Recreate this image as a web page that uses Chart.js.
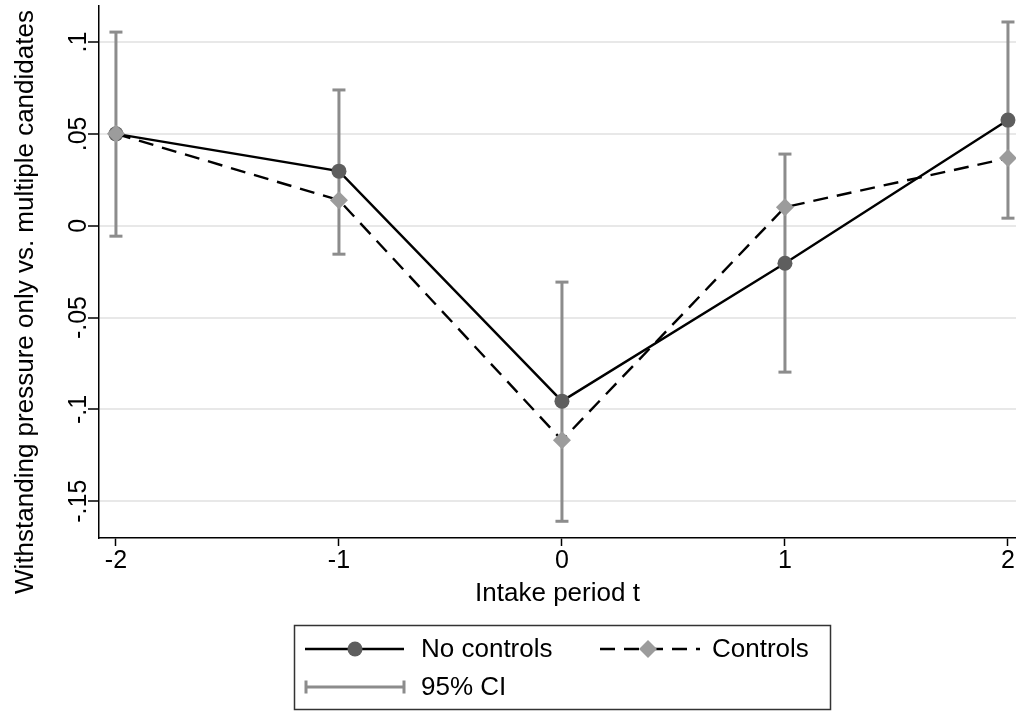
<!DOCTYPE html>
<html>
<head>
<meta charset="utf-8">
<script src="https://cdn.jsdelivr.net/npm/chart.js@4.4.0/dist/chart.umd.min.js"></script>
<style>
  body { margin: 0; background: #fff; }
  #wrap { width: 1016px; height: 711px; }
</style>
</head>
<body>
<div id="wrap"><canvas id="chart" width="1016" height="711"></canvas></div>
<script>
// intake periods
const periods = [-2, -1, 0, 1, 2];
// point estimates
const noControls = [0.050, 0.0297, -0.0955, -0.0204, 0.0575];
const controls = [0.050, 0.0139, -0.1168, 0.0101, 0.0368];
// 95% CI (no controls)
const ciLow = [-0.0057, -0.0155, -0.1609, -0.0797, 0.0041];
const ciHigh = [0.1054, 0.0739, -0.0307, 0.0390, 0.1109];
// axis ticks
const xTicks = [-2, -1, 0, 1, 2];
const yTicks = [-0.15, -0.1, -0.05, 0, 0.05, 0.1];
const yTickLabels = ['-.15', '-.1', '-.05', '0', '.05', '.1'];

const FONT = "'Liberation Sans', Arial, sans-serif";
const CI_COLOR = '#8c8c8c';
const DASH = [15, 9];

// CI as one line dataset: low, high, gap, ...
const ciPoints = [];
periods.forEach((p, i) => {
  ciPoints.push({ x: p, y: ciLow[i] });
  ciPoints.push({ x: p, y: ciHigh[i] });
  ciPoints.push({ x: p, y: null });
});

const stataText = {
  id: 'stataText',
  afterDraw(chart) {
    const ctx = chart.ctx;
    const y = chart.scales.y;
    ctx.save();
    ctx.fillStyle = '#000';
    // rotated y tick labels
    ctx.font = '25px ' + FONT;
    ctx.textAlign = 'center';
    ctx.textBaseline = 'alphabetic';
    yTicks.forEach((v, i) => {
      ctx.save();
      ctx.translate(86, y.getPixelForValue(v));
      ctx.rotate(-Math.PI / 2);
      ctx.fillText(yTickLabels[i], 0, 0);
      ctx.restore();
    });
    // y title
    ctx.font = '26px ' + FONT;
    ctx.save();
    ctx.translate(33, 302);
    ctx.rotate(-Math.PI / 2);
    ctx.fillText('Withstanding pressure only vs. multiple candidates', 0, 0);
    ctx.restore();

    // legend box
    ctx.strokeStyle = '#333';
    ctx.lineWidth = 1.5;
    ctx.strokeRect(294.5, 625.5, 536, 84);
    ctx.textAlign = 'left';
    ctx.textBaseline = 'middle';
    ctx.font = '26px ' + FONT;
    const r1 = 649, r2 = 687;

    // No controls
    ctx.strokeStyle = '#000';
    ctx.lineWidth = 2.4;
    ctx.beginPath(); ctx.moveTo(305, r1); ctx.lineTo(404, r1); ctx.stroke();
    ctx.fillStyle = '#5e5e5e';
    ctx.beginPath(); ctx.arc(355, r1, 7.5, 0, Math.PI * 2); ctx.fill();
    ctx.fillStyle = '#000';
    ctx.fillText('No controls', 421, r1 + 1);

    // Controls
    ctx.setLineDash(DASH);
    ctx.beginPath(); ctx.moveTo(600, r1); ctx.lineTo(700, r1); ctx.stroke();
    ctx.setLineDash([]);
    ctx.fillStyle = '#9c9c9c';
    ctx.beginPath();
    ctx.moveTo(648 - 9, r1); ctx.lineTo(648, r1 - 9); ctx.lineTo(648 + 9, r1); ctx.lineTo(648, r1 + 9);
    ctx.closePath(); ctx.fill();
    ctx.fillStyle = '#000';
    ctx.fillText('Controls', 712, r1 + 1);

    // 95% CI
    ctx.strokeStyle = CI_COLOR;
    ctx.lineWidth = 3;
    ctx.beginPath();
    ctx.moveTo(306, r2); ctx.lineTo(404, r2);
    ctx.moveTo(306, r2 - 6.5); ctx.lineTo(306, r2 + 6.5);
    ctx.moveTo(404, r2 - 6.5); ctx.lineTo(404, r2 + 6.5);
    ctx.stroke();
    ctx.fillText('95% CI', 421, r2 + 1);
    ctx.restore();
  }
};

const chart = new Chart(document.getElementById('chart'), {
  type: 'line',
  data: {
    datasets: [
      {
        label: 'Controls',
        data: periods.map((p, i) => ({ x: p, y: controls[i] })),
        borderColor: '#000',
        borderWidth: 2.4,
        borderDash: DASH,
        pointStyle: 'rectRot',
        pointRadius: 9,
        pointBackgroundColor: '#9c9c9c',
        pointBorderWidth: 0,
        tension: 0
      },
      {
        label: 'No controls',
        data: periods.map((p, i) => ({ x: p, y: noControls[i] })),
        borderColor: '#000',
        borderWidth: 2.4,
        pointStyle: 'circle',
        pointRadius: 7.5,
        pointBackgroundColor: '#5e5e5e',
        pointBorderWidth: 0,
        tension: 0
      },
      {
        label: '95% CI',
        data: ciPoints,
        borderColor: CI_COLOR,
        borderWidth: 3,
        spanGaps: false,
        pointStyle: 'line',
        pointRadius: 6.5,
        pointBorderColor: CI_COLOR,
        pointBorderWidth: 3,
        tension: 0
      }
    ]
  },
  options: {
    responsive: false,
    animation: false,
    layout: { autoPadding: false, padding: { top: 6, right: 0, left: 0, bottom: 102 } },
    plugins: { legend: { display: false }, tooltip: { enabled: false } },
    scales: {
      x: {
        type: 'linear',
        min: -2.076,
        max: 2.036,
        afterBuildTicks: s => { s.ticks = xTicks.map(v => ({ value: v })); },
        afterFit: s => { s.height = 71; s.paddingLeft = 0; s.paddingRight = 0; },
        ticks: {
          font: { family: FONT, size: 25 },
          color: '#000',
          padding: 0,
          maxRotation: 0,
          callback: v => String(v)
        },
        grid: { drawOnChartArea: false, drawTicks: true, tickLength: 8, tickColor: '#000', tickWidth: 1.5 },
        border: { color: '#000', width: 1.5 },
        title: {
          display: true,
          text: 'Intake period t',
          font: { family: FONT, size: 26 },
          color: '#000',
          padding: 0
        }
      },
      y: {
        type: 'linear',
        min: -0.170,
        max: 0.1196,
        afterBuildTicks: s => { s.ticks = yTicks.map(v => ({ value: v })); },
        afterFit: s => { s.width = 99; s.paddingTop = 0; s.paddingBottom = 0; },
        ticks: { display: false },
        grid: { color: '#e8e8e8', lineWidth: 2, drawTicks: true, tickLength: 11, tickColor: '#000', tickWidth: 1.5 },
        border: { color: '#000', width: 1.5 }
      }
    }
  },
  plugins: [stataText]
});
</script>
</body>
</html>
